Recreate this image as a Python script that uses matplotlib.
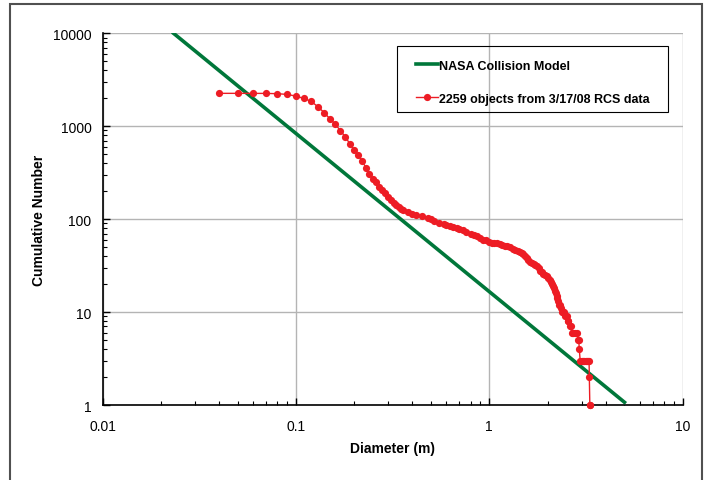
import matplotlib
matplotlib.use("Agg")
import matplotlib.pyplot as plt
from matplotlib.patches import Rectangle

# RCS data: cumulative number of objects larger than a given diameter (m)
diameter = [0.04, 0.05, 0.06, 0.07, 0.08, 0.09, 0.10, 0.11, 0.12, 0.13,
            0.14, 0.15, 0.16, 0.17, 0.18, 0.19, 0.20, 0.21, 0.22, 0.23,
            0.24, 0.25, 0.26, 0.27, 0.28, 0.29, 0.30, 0.31, 0.32, 0.33,
            0.34, 0.35, 0.36, 0.38, 0.40, 0.42, 0.45, 0.48, 0.50, 0.52,
            0.55, 0.58, 0.60, 0.63, 0.65, 0.68, 0.70, 0.73, 0.76, 0.80,
            0.83, 0.86, 0.90, 0.93, 0.96, 1.00, 1.03, 1.06, 1.10, 1.13,
            1.16, 1.20, 1.24, 1.28, 1.32, 1.36, 1.40, 1.44, 1.47, 1.50,
            1.53, 1.56, 1.59, 1.62, 1.66, 1.70, 1.73, 1.76, 1.80, 1.83,
            1.87, 1.90, 1.94, 1.98, 2.02, 2.05, 2.08, 2.11, 2.14, 2.17,
            2.19, 2.21, 2.23, 2.25, 2.27, 2.30, 2.33, 2.36, 2.38, 2.41,
            2.44, 2.47, 2.51, 2.54, 2.56, 2.60, 2.63, 2.67, 2.72, 2.78,
            2.84, 2.89, 2.90, 2.92, 2.95, 3.00, 3.05, 3.10, 3.15, 3.20,
            3.25, 3.28, 3.29, 3.31, 3.33]
count = [2259, 2259, 2257, 2255, 2240, 2200, 2110, 1990, 1850, 1620,
         1400, 1200, 1050, 893, 770, 647, 557, 492, 424, 359,
         307, 273, 252, 222, 206, 192, 175, 162, 151, 142,
         135, 128, 124, 119, 115, 111, 107, 103, 100, 96,
         92, 89, 87, 85, 83, 81, 79, 76, 73, 70,
         68, 66, 62, 60, 59, 57, 56, 55.5, 55, 54,
         53, 52, 51, 50, 48, 47, 45, 44, 43, 42,
         40, 38, 36, 34.5, 34, 33, 32, 31.5, 30, 28,
         27, 26, 25, 24.5, 23, 22, 21, 20, 19, 18,
         17, 16, 15, 14, 13, 12, 12, 11, 10, 10,
         10, 9, 9, 8, 8, 7, 7, 6, 6, 6,
         6, 5, 5, 4, 3, 3, 3, 3, 3, 3,
         3, 3, 2, 1, 1]

# NASA collision model (power law, endpoints as drawn)
model_diameter = [0.0233, 5.0]
model_count = [10000, 1.07]

green = "#00773A"
red = "#ED1C24"

plt.rcParams["font.family"] = ["Liberation Sans", "DejaVu Sans"]

W, H = 707, 481
fig = plt.figure(figsize=(W / 100, H / 100), dpi=100)
ax_l, ax_r, ax_t, ax_b = 102.5, 682.7, 34.3, 406
ax = fig.add_axes([ax_l / W, 1 - ax_b / H, (ax_r - ax_l) / W, (ax_b - ax_t) / H])

ax.plot(model_diameter, model_count, color=green, lw=2.6,
        label="NASA Collision Model", zorder=3)
ax.plot(diameter, count, color=red, lw=1.0, marker="o", markersize=5.2,
        markeredgewidth=0, label="2259 objects from 3/17/08 RCS data",
        zorder=4, clip_on=False)

ax.set_xscale("log")
ax.set_yscale("log")
ax.set_xlim(0.01, 10)
ax.set_ylim(1, 10000)
ax.set_xticks([0.01, 0.1, 1, 10])
ax.set_xticklabels(["0.01", "0.1", "1", "10"])
ax.set_yticks([1, 10, 100, 1000, 10000])
ax.set_yticklabels(["1", "10", "100", "1000", "10000"])

ax.grid(True, which="major", color="#B4B4B4", lw=1.0)
ax.set_axisbelow(True)
for s in ["top", "right"]:
    ax.spines[s].set_visible(False)
for s in ["left", "bottom"]:
    ax.spines[s].set_color("black")
    ax.spines[s].set_linewidth(1.2)

ax.tick_params(which="major", direction="in", length=5, width=1, labelsize=10,
               pad=10, colors="black")
ax.tick_params(which="minor", direction="in", length=3, width=0.8)
ax.tick_params(axis="y", which="major", pad=8)

ax.set_xlabel("Diameter (m)", fontsize=10, fontweight="bold", labelpad=6)
ax.set_ylabel("Cumulative Number", fontsize=10, fontweight="bold", labelpad=5)


def to_axes(px, py):
    return (px - ax_l) / (ax_r - ax_l), (ax_b - py) / (ax_b - ax_t)


leg = ax.legend(loc="upper left", bbox_to_anchor=to_axes(403, 48),
                borderaxespad=0, frameon=False,
                prop={"weight": "bold", "size": 9}, labelspacing=1.7,
                handlelength=1.8, handletextpad=0.1, borderpad=1.0)

# legend frame
x0, y0 = to_axes(397, 113)
x1, y1 = to_axes(668, 46.7)
ax.add_patch(Rectangle((x0, y0), x1 - x0, y1 - y0, transform=ax.transAxes,
                       fill=False, edgecolor="black", lw=0.8, zorder=5))

# outer border of the figure
fig.patches.append(Rectangle((9.5 / W, -0.05), (701.7 - 9.5) / W,
                             1.05 - 5 / H, transform=fig.transFigure,
                             fill=False, edgecolor="#505050", lw=1.5))

fig.savefig("out.png", dpi=100)
